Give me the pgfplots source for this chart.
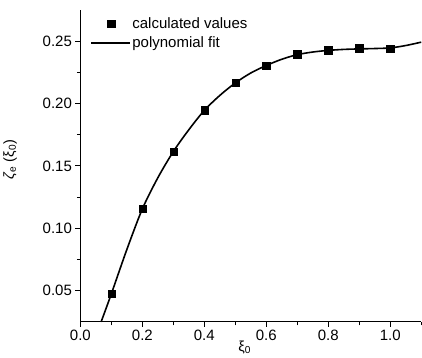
\documentclass[border=0pt]{standalone}
\usepackage{pgfplots}
\pgfplotsset{compat=1.18}
\usepackage{fontspec}
\setmainfont{Liberation Sans}
\pgfplotsset{
  marklegend/.style={legend image code/.code={\draw[mark repeat=2,mark phase=2,##1] plot coordinates {(0cm,0cm) (0.7cm,0cm) (1.4cm,0cm)};}},
  linelegend/.style={legend image code/.code={\draw[##1] (0cm,0cm) -- (1.35cm,0cm);}},
}
\begin{document}
\begin{tikzpicture}
\begin{axis}[
  name=ax,
  scale only axis,
  width=341pt, height=312pt,
  xmin=0, xmax=1.1, ymin=0.025, ymax=0.275,
  axis x line*=bottom, axis y line*=left,
  axis line style={line width=1.1pt},
  xtick={0,0.2,0.4,0.6,0.8,1.0},
  ytick={0.05,0.10,0.15,0.20,0.25},
  minor xtick={0.1,0.3,0.5,0.7,0.9,1.1},
  minor ytick={0.075,0.125,0.175,0.225},
  tick align=outside,
  major tick length=5pt, minor tick length=3.5pt,
  tick style={line width=1pt, black},
  /pgf/number format/assume math mode=true,
  xticklabel style={/pgf/number format/.cd, fixed, fixed zerofill, precision=1},
  yticklabel style={/pgf/number format/.cd, fixed, fixed zerofill, precision=2},
  tick label style={font=\fontsize{15}{18}\selectfont},
  xlabel={ξ\textsubscript{0}},
  ylabel={\textit{ζ}\textsubscript{e} (ξ\textsubscript{0})},
  label style={font=\fontsize{14.5}{16}\selectfont},
  xlabel style={yshift=7pt, xshift=-6pt},
  ylabel style={at={(ticklabel cs:0.52)}, yshift=19pt},
  legend style={draw=none, fill=none, at={(0.02,0.99)}, anchor=north west,
    font=\fontsize{15}{18}\selectfont, row sep=3pt},
  legend cell align=left,
  clip=false,
]
\addplot[only marks, mark=square*, mark size=3.6pt, black, marklegend]
coordinates {
(0.1,0.0473) (0.2,0.1157) (0.3,0.1617) (0.4,0.1946) (0.5,0.2165)
(0.6,0.2305) (0.7,0.2396) (0.8,0.2428) (0.9,0.2444) (1.0,0.2438)
};
\addlegendentry{calculated values}
\addplot[black, line width=1.6pt, smooth, linelegend]
coordinates {
(0.067,0.025) (0.1,0.0475) (0.15,0.0830) (0.2,0.1155) (0.25,0.1405)
(0.3,0.1615) (0.35,0.1790) (0.4,0.1945) (0.45,0.2065) (0.5,0.2165)
(0.55,0.2245) (0.6,0.2305) (0.65,0.2355) (0.7,0.2392) (0.75,0.2413)
(0.8,0.2426) (0.85,0.2434) (0.9,0.2438) (0.95,0.2441) (1.0,0.2446)
(1.05,0.2465) (1.1,0.2492)
};
\addlegendentry{polynomial fit}
\end{axis}
\path (ax.north west) ++(0,10pt) coordinate (tl);
\path (tl) -- (ax.east);
\end{tikzpicture}
\end{document}
